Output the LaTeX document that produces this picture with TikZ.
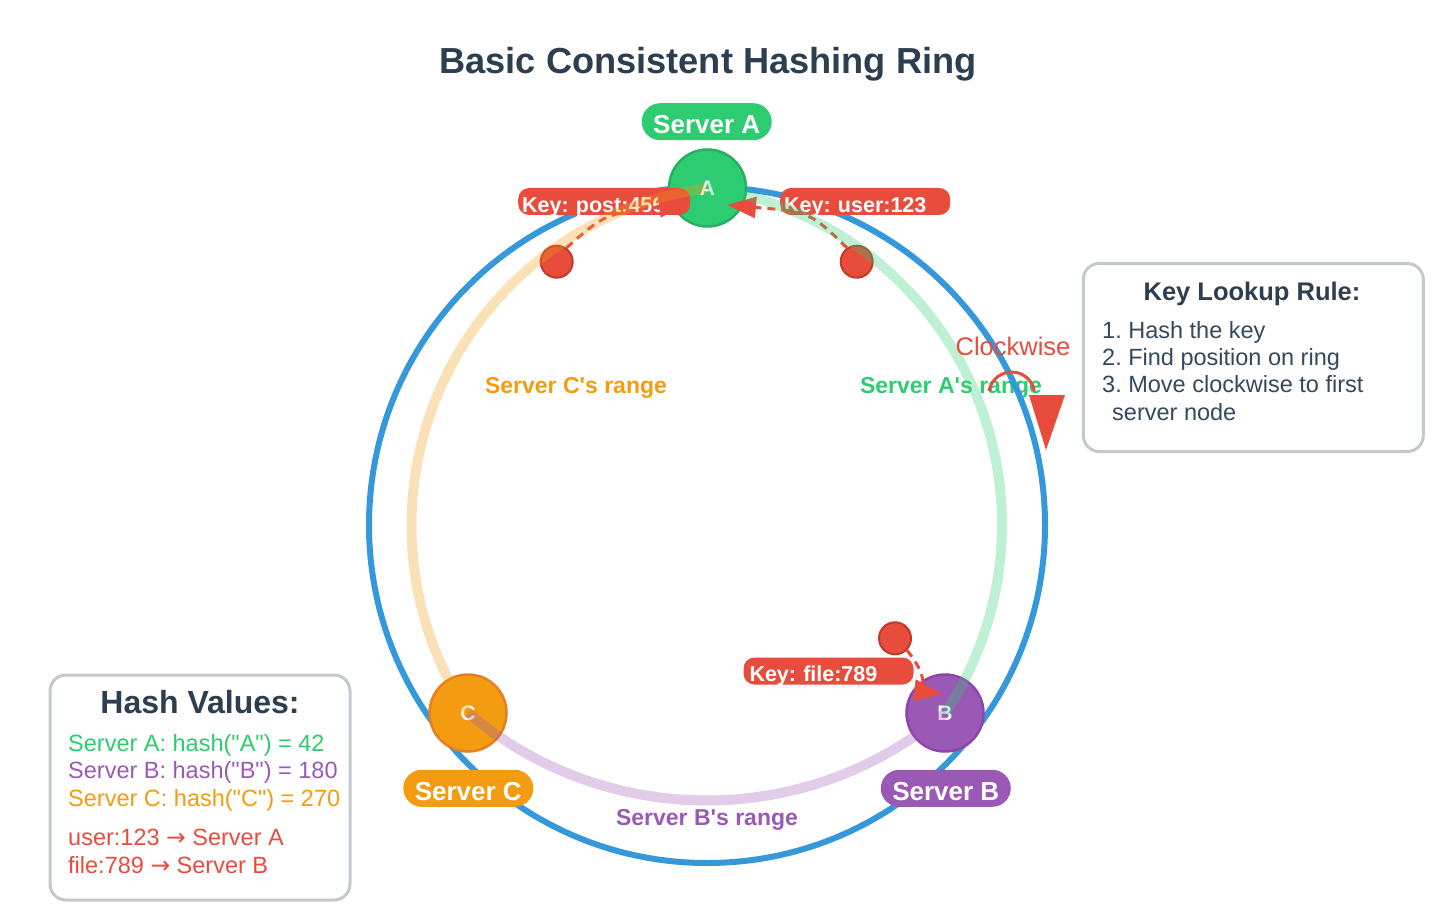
\documentclass[tikz,border=0pt]{standalone}
\usepackage{fontspec}
\setmainfont{Liberation Sans}
\newfontfamily\arrowfont{DejaVu Sans}
\usetikzlibrary{arrows.meta,shapes.misc}
\definecolor{cblue}{HTML}{3498DB}
\definecolor{cgreen}{HTML}{2ECC71}
\definecolor{cgreendk}{HTML}{27AE60}
\definecolor{cpurple}{HTML}{9B59B6}
\definecolor{cpurpledk}{HTML}{8E44AD}
\definecolor{corange}{HTML}{F39C12}
\definecolor{corangedk}{HTML}{E67E22}
\definecolor{cred}{HTML}{E74C3C}
\definecolor{creddk}{HTML}{C0392B}
\definecolor{cdark}{HTML}{2C3E50}
\definecolor{ctext}{HTML}{34495E}
\definecolor{cgray}{HTML}{C4C9CE}
\newcommand\fsz[1]{\fontsize{#1}{#1}\selectfont}
\newcommand\dq{\textquotedbl}
\newcommand\sq{\textquotesingle}
\begin{document}
\frenchspacing
\begin{tikzpicture}[x=1pt,y=-1pt,
  ring/.style={draw=cblue, line width=6pt},
  rangearc/.style={line width=10pt, draw opacity=0.3},
  server/.style={circle, minimum size=77pt, inner sep=0pt, line width=2.5pt, text=white, font=\bfseries\fsz{21}},
  pill/.style={rounded rectangle, minimum height=37pt, minimum width=130pt, inner sep=0pt, text=white, text height=23.4pt, text depth=0pt, font=\bfseries\fsz{26}},
  keydot/.style={circle, minimum size=32pt, inner sep=0pt, fill=cred, draw=creddk, line width=2pt},
  keylabel/.style={rounded corners=11pt, fill=cred, minimum height=27pt, inner ysep=0pt, inner xsep=4pt, align=left, text=white, font=\bfseries\fsz{21.5}, anchor=west, text height=21pt, text depth=0pt},
  keyline/.style={draw=cred, line width=3pt, dash pattern=on 8pt off 6pt, -{Triangle[length=29pt,width=21pt]}},
  rangelabel/.style={font=\bfseries\fsz{23}, anchor=base, inner sep=0pt},
  infobox/.style={draw=cgray, line width=3pt, rounded corners=16pt, fill=white},
  body/.style={font=\fsz{23.5}, anchor=base west, inner sep=0pt},
  boxtitle/.style={font=\bfseries, text=cdark, anchor=base, inner sep=0pt},
]
\useasboundingbox (0,0) rectangle (1448,920);

% title
\node[boxtitle, font=\bfseries\fsz{36.2}] (title) at (708,74) {Basic Consistent Hashing Ring};

% range labels
\node[rangelabel, text=corange] (rangeC) at (576,393) {Server C\sq s range};
\node[rangelabel, text=cgreen] (rangeA) at (951,393) {Server A\sq s range};
\node[rangelabel, text=cpurple] (rangeB) at (707,825) {Server B\sq s range};

% ring
\draw[ring] (707,525) circle[radius=338];

% servers
\node[server, fill=cgreen, draw=cgreendk] (A) at (707.5,188) {A};
\node[server, fill=cpurple, draw=cpurpledk] (B) at (945,713) {B};
\node[server, fill=corange, draw=corangedk] (C) at (468,713) {C};
\node[pill, fill=cgreen] (lA) at (706.7,121.7) {Server A};
\node[pill, fill=cpurple] (lB) at (945.8,788.3) {Server B};
\node[pill, fill=corange] (lC) at (468.3,788.3) {Server C};

% key labels
\node[keylabel, text width=164pt] (kl1) at (518,201.5) {Key: post:456};
\node[keylabel, text width=162pt] (kl2) at (780,201.5) {Key: user:123};
\node[keylabel, text width=158pt, inner xsep=6pt] (kl3) at (743.3,671) {Key: file:789};

% key dots
\node[keydot] (k1) at (556.7,261.7) {};
\node[keydot] (k2) at (856.7,261.7) {};
\node[keydot] (k3) at (895,638.3) {};

% lookups
\coordinate (tipL) at (688,203);
\coordinate (tipR) at (727,205);
\coordinate (tipB) at (943,694);
\draw[keyline] (k1.55) .. controls (605,214) .. (tipL);
\draw[keyline] (k2.125) .. controls (810,212) .. (tipR);
\draw[keyline] (k3.-45) .. controls (925,672) and (928,692) .. (tipB);

% ranges
\draw[rangearc, draw=cgreen] (A.center) arc[start angle=-82.3, end angle=33.6, radius=340];
\draw[rangearc, draw=corange] (C.center) arc[start angle=146.5, end angle=262.3, radius=340];
\draw[rangearc, draw=cpurple] (B.center) arc[start angle=49.7, end angle=130.3, radius=368.6];

% clockwise
\node[font=\fsz{25.5}, text=cred, anchor=base, inner sep=0pt] (cw) at (1013,355) {Clockwise};
\draw[cred, line width=3pt] (989,391) arc[start angle=190, end angle=350, radius=23];
\fill[cred] (1029,395) -- (1065,395) -- (1046,450) -- cycle;

% rule box
\node[infobox, minimum width=340pt, minimum height=188pt] (rule) at (1253.3,357.5) {};
\node[boxtitle, font=\bfseries\fsz{25.5}] (ruleT) at (1252,300) {Key Lookup Rule:};
\node[body, text=ctext] (r1) at (1102,338) {1. Hash the key};
\node[body, text=ctext] (r2) at (1102,365) {2. Find position on ring};
\node[body, text=ctext] (r3) at (1102,392) {3. Move clockwise to first};
\node[body, text=ctext] (r4) at (1112,420) {server node};

% hash box
\node[infobox, minimum width=300pt, minimum height=225pt] (hash) at (200,787.5) {};
\node[boxtitle, font=\bfseries\fsz{32}] (hashT) at (200,713) {Hash Values:};
\node[body, text=cgreen] (h1) at (68,751) {Server A: hash(\dq A\dq) = 42};
\node[body, text=cpurple] (h2) at (68,778.5) {Server B: hash(\dq B\dq) = 180};
\node[body, text=corange] (h3) at (68,806.5) {Server C: hash(\dq C\dq) = 270};
\node[body, text=cred] (h4) at (68,845.5) {user:123 {\arrowfont →} Server A};
\node[body, text=cred] (h5) at (68,873.5) {file:789 {\arrowfont →} Server B};
\end{tikzpicture}
\end{document}
